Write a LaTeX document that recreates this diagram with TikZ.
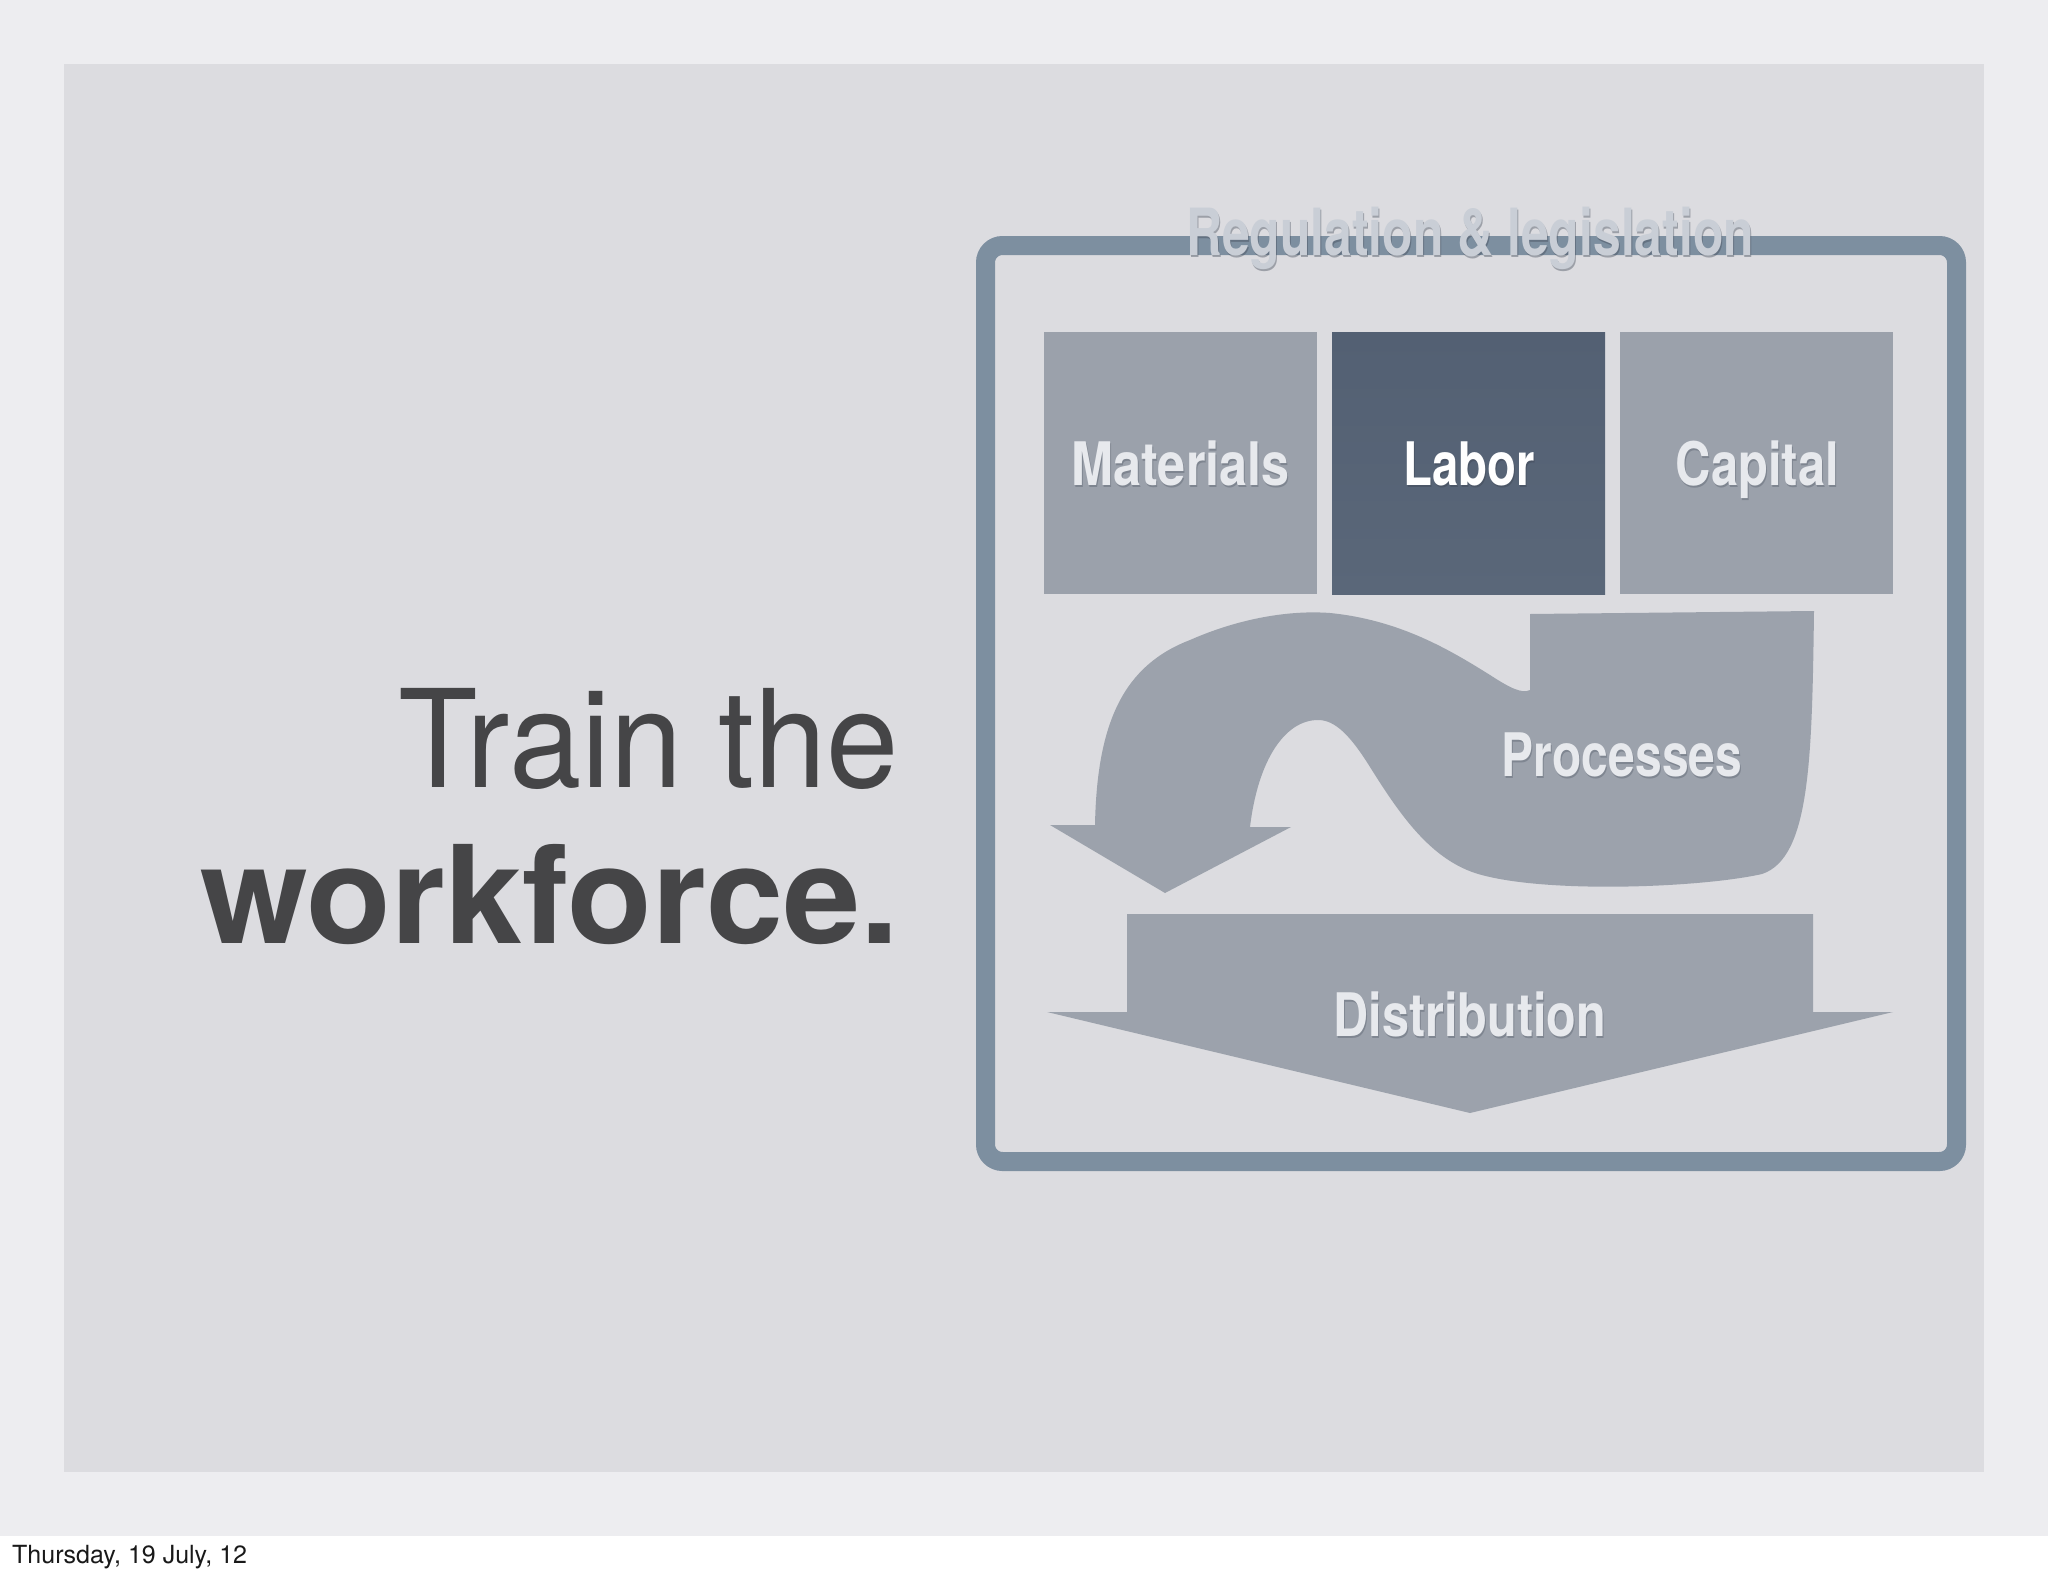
\documentclass[tikz,border=0pt]{standalone}
\usepackage{fontspec}
\setmainfont{TeX Gyre Heros}
\definecolor{pagebg}{HTML}{EDEDF0}
\definecolor{panelc}{HTML}{DCDCE0}
\definecolor{framec}{HTML}{7D8FA0}
\definecolor{boxc}{HTML}{9BA1AB}
\definecolor{labortop}{HTML}{536073}
\definecolor{laborbot}{HTML}{5A6779}
\definecolor{arrowc}{HTML}{9CA2AC}
\definecolor{lblc}{HTML}{E7E9ED}
\definecolor{regc}{HTML}{C9CED6}
\definecolor{shc}{HTML}{3E4654}
\definecolor{headc}{HTML}{454547}
\newcommand{\cnd}[2][0.8]{\scalebox{#1}[1]{#2}}
\begin{document}
\begin{tikzpicture}[x=1pt,y=-1pt,
  lbl/.style={font=\bfseries\fontsize{60}{60}\selectfont, text=lblc, inner sep=0pt, anchor=base},
  lblsh/.style={lbl, text=shc, opacity=0.3},
  boxl/.style={fill=boxc, draw=none, minimum width=273, minimum height=262, anchor=north west, inner sep=0pt},
  head/.style={text=headc, inner sep=0pt, anchor=base east}]
\useasboundingbox (0,0) rectangle (2048,1576);
% page background
\fill[pagebg] (0,0) rectangle (2048,1536);
\fill[white] (0,1536) rectangle (2048,1576);
\fill[panelc] (64,64) rectangle (1984,1472);
% headline
\node[head, font=\fontsize{136}{136}\selectfont] (train) at (899,787) {\scalebox{0.956}[1]{Train the}};
\node[head, font=\bfseries\fontsize{136}{136}\selectfont] (work) at (899,943) {\scalebox{1.02}[1]{workforce.}};
% date
\node[inner sep=0pt, anchor=base west, text=black!90, font=\fontsize{25}{25}\selectfont] (date) at (12,1563) {Thursday, 19 July, 12};
% frame
\draw[framec, line width=19, rounded corners=17] (985.5,245.5) rectangle (1956.5,1161.5);
% boxes
\node[boxl] (mat) at (1044,332) {};
\node[boxl, top color=labortop, bottom color=laborbot] (lab) at (1332,332) {};
\node[boxl] (cap) at (1620,332) {};
% processes arrow
\fill[arrowc] (1530,690) -- (1530,614) -- (1814,611)
  .. controls (1812,760) and (1810,858) .. (1762,874)
  .. controls (1700,888) and (1540,894) .. (1475,873)
  .. controls (1430,858) and (1400,815) .. (1370,767)
  .. controls (1350,735) and (1335,720) .. (1318,720)
  .. controls (1285,720) and (1258,760) .. (1250,827)
  -- (1291,827) -- (1165,893) -- (1050,825) -- (1095,825)
  .. controls (1097,720) and (1125,665) .. (1190,640)
  .. controls (1240,618) and (1290,610) .. (1330,613)
  .. controls (1400,620) and (1450,650) .. (1490,675)
  .. controls (1510,688) and (1522,694) .. (1530,690) -- cycle;
% distribution arrow
\fill[arrowc] (1127,914) -- (1813,914) -- (1813,1012) -- (1893,1012) -- (1470,1113) -- (1047,1012) -- (1127,1012) -- cycle;
% labels with shadows
\node[lblsh] (matS) at (1181.5,487) {\cnd[0.84]{Materials}};
\node[lbl] (matT) at (1180.5,485) {\cnd[0.84]{Materials}};
\node[lblsh, opacity=0.45] (labS) at (1470,487) {\cnd[0.79]{Labor}};
\node[lbl, text=white] (labT) at (1469,485) {\cnd[0.79]{Labor}};
\node[lblsh] (capS) at (1758.5,487) {\cnd[0.815]{Capital}};
\node[lbl] (capT) at (1757.5,485) {\cnd[0.815]{Capital}};
\node[lblsh] (proS) at (1623,778) {\cnd[0.8]{Processes}};
\node[lbl] (proT) at (1622,776) {\cnd[0.8]{Processes}};
\node[lblsh] (disS) at (1471,1038) {\cnd[0.81]{Distribution}};
\node[lbl] (disT) at (1470,1036) {\cnd[0.81]{Distribution}};
\node[lblsh, font=\bfseries\fontsize{65}{65}\selectfont, opacity=0.4] (regS) at (1471,257) {\cnd[0.767]{Regulation \& legislation}};
\node[lbl, font=\bfseries\fontsize{65}{65}\selectfont, text=regc] (regT) at (1470,255) {\cnd[0.767]{Regulation \& legislation}};
\end{tikzpicture}
\end{document}
